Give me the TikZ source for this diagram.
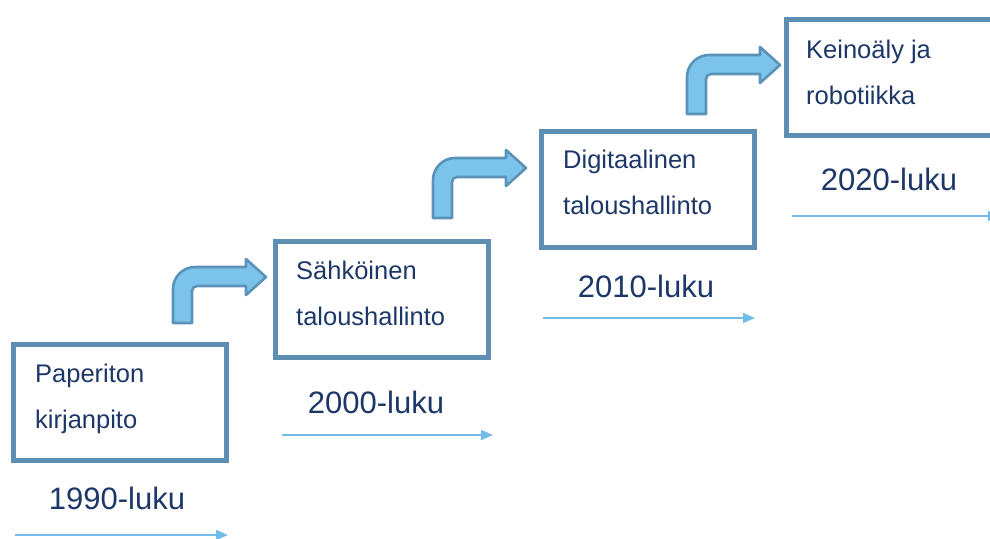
\documentclass[tikz,border=0pt]{standalone}
\usepackage{fontspec}
\setmainfont{Liberation Sans}
\usetikzlibrary{arrows.meta}
\definecolor{boxline}{HTML}{5E8FB2}
\definecolor{bentfill}{HTML}{7CC3EB}
\definecolor{bentline}{HTML}{5B92B8}
\definecolor{thinarrow}{HTML}{72BCE8}
\definecolor{navy}{HTML}{1C3768}
\tikzset{
  stagebox/.style={draw=boxline, line width=5pt, fill=white, rectangle,
    minimum width=213pt, minimum height=116pt, inner sep=0pt},
  boxtext/.style={anchor=base west, inner sep=0pt, text=navy,
    font=\fontsize{25.5}{30}\selectfont},
  decade/.style={anchor=base, inner sep=0pt, text=navy,
    font=\fontsize{31}{36}\selectfont},
  timeline/.style={draw=thinarrow, line width=1.4pt,
    -{Triangle[length=12pt,width=10pt]}},
  pics/bentarrow/.style={code={
    \draw[fill=bentfill, draw=bentline, line width=2.6pt, line join=round]
      (0,0) -- (0,{-#1+22})
      .. controls (0,{-#1+9.9}) and (9.9,{-#1}) .. (22,{-#1})
      -- (73,{-#1}) -- (73,{-#1-8}) -- (93,{-#1+10}) -- (73,{-#1+28})
      -- (73,{-#1+19}) -- (24,{-#1+19})
      .. controls (21.2,{-#1+19}) and (19,{-#1+21.2}) .. (19,{-#1+24})
      -- (19,0) -- cycle;
  }}
}
\begin{document}
\begin{tikzpicture}[x=1pt, y=-1pt]
\useasboundingbox (0,0) rectangle (990,538);
\clip (0,0) rectangle (990,538);
\fill[white] (0,0) rectangle (990,538);

% boxes
\node[stagebox] (b1) at (119.5,402.5) {};
\node[stagebox] (b2) at (382,299.5) {};
\node[stagebox] (b3) at (648,189) {};
\node[stagebox] (b4) at (893,77.5) {};

% box texts
\node[boxtext] (t1a) at (35,382) {Paperiton};
\node[boxtext] (t1b) at (35,428) {kirjanpito};
\node[boxtext] (t2a) at (296,279) {Sähköinen};
\node[boxtext] (t2b) at (296,325) {taloushallinto};
\node[boxtext] (t3a) at (563,168) {Digitaalinen};
\node[boxtext] (t3b) at (563,214) {taloushallinto};
\node[boxtext] (t4a) at (806,58) {Keinoäly ja};
\node[boxtext] (t4b) at (806,104) {robotiikka};

% decade labels
\node[decade] (d1) at (117,509) {1990-luku};
\node[decade] (d2) at (376,413) {2000-luku};
\node[decade] (d3) at (646,297) {2010-luku};
\node[decade] (d4) at (889,190) {2020-luku};

% timeline arrows
\coordinate (a1s) at (15,535);  \coordinate (a1e) at (228,535);
\coordinate (a2s) at (282,435); \coordinate (a2e) at (493,435);
\coordinate (a3s) at (543,318); \coordinate (a3e) at (755,318);
\coordinate (a4s) at (792,216); \coordinate (a4e) at (1000,216);
\draw[timeline] (a1s) -- (a1e);
\draw[timeline] (a2s) -- (a2e);
\draw[timeline] (a3s) -- (a3e);
\draw[timeline] (a4s) -- (a4e);

% bent block arrows
\pic at (173,323) {bentarrow=56};
\pic at (433,218) {bentarrow=60};
\pic at (687,114) {bentarrow=59};
\end{tikzpicture}
\end{document}
